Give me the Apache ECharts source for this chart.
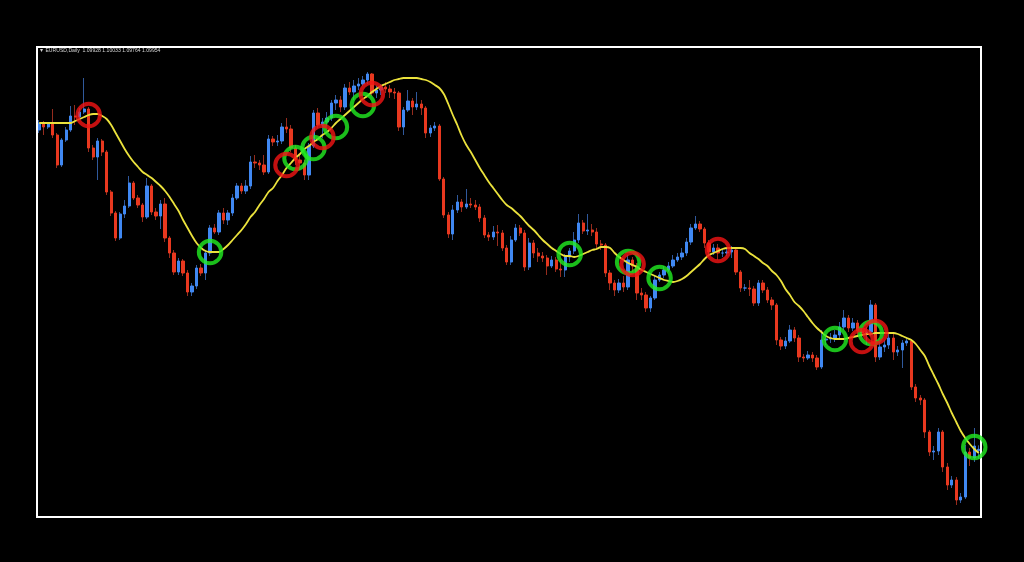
<!DOCTYPE html>
<html>
<head>
<meta charset="utf-8">
<script src="https://cdn.jsdelivr.net/npm/echarts@6/dist/echarts.min.js"></script>
<style>
html,body{margin:0;padding:0;background:#000;}
#chart{width:1024px;height:562px;}
</style>
</head>
<body>
<div id="chart"></div>
<script>
const symbolName = 'EURUSD';
const timeframe = 'Daily';

const open = [
1.1634,1.1648,1.1640,1.1646,1.1624,1.1564,1.1614,1.1634,1.1662,1.1660,
1.1670,1.1676,1.1598,1.1580,1.1612,1.1590,1.1510,1.1468,1.1418,1.1466,
1.1482,1.1528,1.1498,1.1484,1.1460,1.1522,1.1470,1.1462,1.1486,1.1418,
1.1388,1.1350,1.1372,1.1348,1.1310,1.1322,1.1358,1.1348,1.1388,1.1438,
1.1430,1.1468,1.1454,1.1468,1.1498,1.1522,1.1512,1.1522,1.1570,1.1568,
1.1564,1.1550,1.1616,1.1610,1.1612,1.1640,1.1636,1.1598,1.1574,1.1568,
1.1544,1.1602,1.1668,1.1644,1.1650,1.1658,1.1688,1.1694,1.1680,1.1718,
1.1710,1.1722,1.1726,1.1734,1.1746,1.1708,1.1714,1.1720,1.1716,1.1710,
1.1708,1.1640,1.1674,1.1692,1.1680,1.1686,1.1678,1.1628,1.1638,1.1642,
1.1536,1.1464,1.1426,1.1474,1.1490,1.1480,1.1486,1.1484,1.1480,1.1458,
1.1424,1.1420,1.1430,1.1428,1.1398,1.1370,1.1414,1.1438,1.1428,1.1360,
1.1408,1.1388,1.1382,1.1378,1.1362,1.1374,1.1356,1.1354,1.1380,1.1392,
1.1414,1.1448,1.1432,1.1434,1.1430,1.1406,1.1404,1.1348,1.1328,1.1314,
1.1328,1.1320,1.1374,1.1362,1.1308,1.1304,1.1278,1.1298,1.1334,1.1344,
1.1354,1.1362,1.1374,1.1380,1.1388,1.1410,1.1438,1.1446,1.1436,1.1408,
1.1390,1.1398,1.1388,1.1388,1.1390,1.1394,1.1350,1.1318,1.1318,1.1316,
1.1288,1.1328,1.1314,1.1294,1.1284,1.1214,1.1202,1.1212,1.1234,1.1218,
1.1180,1.1178,1.1184,1.1178,1.1160,1.1214,1.1216,1.1218,1.1224,1.1240,
1.1258,1.1238,1.1248,1.1232,1.1228,1.1230,1.1284,1.1180,1.1200,1.1204,
1.1218,1.1190,1.1194,1.1208,1.1212,1.1120,1.1098,1.1094,1.1030,1.0990,
1.0992,1.1030,1.0960,1.0924,1.0934,1.0894,1.0900,1.0990,1.0978,1.09928
];
const close = [
1.1648,1.1640,1.1646,1.1624,1.1564,1.1614,1.1634,1.1662,1.1660,1.1670,
1.1676,1.1598,1.1580,1.1612,1.1590,1.1510,1.1468,1.1418,1.1466,1.1482,
1.1528,1.1498,1.1484,1.1460,1.1522,1.1470,1.1462,1.1486,1.1418,1.1388,
1.1350,1.1372,1.1348,1.1310,1.1322,1.1358,1.1348,1.1388,1.1438,1.1430,
1.1468,1.1454,1.1468,1.1498,1.1522,1.1512,1.1522,1.1570,1.1568,1.1564,
1.1550,1.1616,1.1610,1.1612,1.1640,1.1636,1.1598,1.1574,1.1568,1.1544,
1.1602,1.1668,1.1644,1.1650,1.1658,1.1688,1.1694,1.1680,1.1718,1.1710,
1.1722,1.1726,1.1734,1.1746,1.1708,1.1714,1.1720,1.1716,1.1710,1.1708,
1.1640,1.1674,1.1692,1.1680,1.1686,1.1678,1.1628,1.1638,1.1642,1.1536,
1.1464,1.1426,1.1474,1.1490,1.1480,1.1486,1.1484,1.1480,1.1458,1.1424,
1.1420,1.1430,1.1428,1.1398,1.1370,1.1414,1.1438,1.1428,1.1360,1.1408,
1.1388,1.1382,1.1378,1.1362,1.1374,1.1356,1.1354,1.1380,1.1392,1.1414,
1.1448,1.1432,1.1434,1.1430,1.1406,1.1404,1.1348,1.1328,1.1314,1.1328,
1.1320,1.1374,1.1362,1.1308,1.1304,1.1278,1.1298,1.1334,1.1344,1.1354,
1.1362,1.1374,1.1380,1.1388,1.1410,1.1438,1.1446,1.1436,1.1408,1.1390,
1.1398,1.1388,1.1388,1.1390,1.1394,1.1350,1.1318,1.1318,1.1316,1.1288,
1.1328,1.1314,1.1294,1.1284,1.1214,1.1202,1.1212,1.1234,1.1218,1.1180,
1.1178,1.1184,1.1178,1.1160,1.1214,1.1216,1.1218,1.1224,1.1240,1.1258,
1.1238,1.1248,1.1232,1.1228,1.1230,1.1284,1.1180,1.1200,1.1204,1.1218,
1.1190,1.1194,1.1208,1.1212,1.1120,1.1098,1.1094,1.1030,1.0990,1.0992,
1.1030,1.0960,1.0924,1.0934,1.0894,1.0900,1.0990,1.0978,1.1002,1.09954
];
const high = [
1.1654,1.1652,1.1650,1.1676,1.1628,1.1618,1.1640,1.1682,1.1684,1.1678,
1.1738,1.1680,1.1604,1.1618,1.1616,1.1594,1.1514,1.1472,1.1470,1.1494,
1.1542,1.1532,1.1504,1.1488,1.1538,1.1526,1.1478,1.1494,1.1498,1.1422,
1.1394,1.1378,1.1376,1.1354,1.1328,1.1364,1.1366,1.1394,1.1444,1.1446,
1.1474,1.1478,1.1474,1.1506,1.1528,1.1528,1.1534,1.1582,1.1584,1.1574,
1.1584,1.1624,1.1622,1.1624,1.1648,1.1658,1.1644,1.1604,1.1584,1.1574,
1.1608,1.1674,1.1678,1.1658,1.1670,1.1694,1.1704,1.1702,1.1726,1.1730,
1.1734,1.1738,1.1742,1.1750,1.1748,1.1722,1.1726,1.1730,1.1724,1.1718,
1.1712,1.1680,1.1714,1.1698,1.1710,1.1694,1.1682,1.1644,1.1650,1.1646,
1.1540,1.1470,1.1484,1.1504,1.1496,1.1516,1.1498,1.1494,1.1486,1.1464,
1.1430,1.1442,1.1444,1.1434,1.1404,1.1422,1.1446,1.1444,1.1434,1.1418,
1.1414,1.1398,1.1390,1.1384,1.1382,1.1380,1.1374,1.1386,1.1398,1.1430,
1.1466,1.1454,1.1466,1.1446,1.1438,1.1414,1.1408,1.1354,1.1334,1.1336,
1.1342,1.1384,1.1380,1.1368,1.1318,1.1310,1.1302,1.1342,1.1350,1.1362,
1.1370,1.1384,1.1388,1.1398,1.1418,1.1446,1.1462,1.1452,1.1440,1.1414,
1.1406,1.1406,1.1396,1.1398,1.1402,1.1398,1.1354,1.1326,1.1334,1.1322,
1.1334,1.1334,1.1320,1.1300,1.1288,1.1220,1.1220,1.1244,1.1240,1.1224,
1.1186,1.1192,1.1190,1.1184,1.1234,1.1226,1.1228,1.1234,1.1250,1.1274,
1.1264,1.1258,1.1254,1.1238,1.1240,1.1294,1.1288,1.1210,1.1214,1.1226,
1.1230,1.1202,1.1214,1.1218,1.1216,1.1126,1.1104,1.1098,1.1034,1.1002,
1.1038,1.1034,1.0968,1.0942,1.0940,1.0908,1.1004,1.0998,1.1038,1.10033
];
const low = [
1.1628,1.1624,1.1636,1.1618,1.1558,1.1560,1.1610,1.1630,1.1644,1.1654,
1.1666,1.1590,1.1574,1.1534,1.1582,1.1504,1.1462,1.1412,1.1414,1.1458,
1.1478,1.1494,1.1478,1.1450,1.1456,1.1464,1.1454,1.1436,1.1410,1.1378,
1.1344,1.1344,1.1342,1.1302,1.1302,1.1316,1.1342,1.1334,1.1382,1.1426,
1.1424,1.1446,1.1444,1.1462,1.1494,1.1506,1.1506,1.1516,1.1558,1.1554,
1.1544,1.1546,1.1602,1.1602,1.1606,1.1628,1.1590,1.1564,1.1554,1.1534,
1.1534,1.1598,1.1638,1.1618,1.1642,1.1652,1.1674,1.1670,1.1674,1.1704,
1.1694,1.1714,1.1722,1.1726,1.1702,1.1698,1.1704,1.1708,1.1698,1.1696,
1.1632,1.1624,1.1670,1.1664,1.1674,1.1664,1.1618,1.1620,1.1632,1.1532,
1.1458,1.1418,1.1414,1.1468,1.1470,1.1476,1.1478,1.1474,1.1450,1.1418,
1.1412,1.1414,1.1402,1.1392,1.1364,1.1364,1.1410,1.1422,1.1352,1.1354,
1.1378,1.1370,1.1370,1.1344,1.1358,1.1350,1.1340,1.1340,1.1370,1.1386,
1.1408,1.1426,1.1424,1.1422,1.1394,1.1394,1.1340,1.1314,1.1302,1.1308,
1.1310,1.1314,1.1350,1.1294,1.1294,1.1270,1.1270,1.1294,1.1330,1.1338,
1.1350,1.1358,1.1370,1.1374,1.1382,1.1404,1.1434,1.1430,1.1398,1.1382,
1.1384,1.1374,1.1380,1.1382,1.1378,1.1344,1.1310,1.1312,1.1302,1.1282,
1.1282,1.1308,1.1288,1.1274,1.1204,1.1194,1.1196,1.1208,1.1210,1.1170,
1.1170,1.1174,1.1170,1.1154,1.1156,1.1204,1.1208,1.1210,1.1218,1.1234,
1.1230,1.1232,1.1224,1.1220,1.1204,1.1222,1.1170,1.1174,1.1190,1.1196,
1.1174,1.1182,1.1158,1.1202,1.1114,1.1090,1.1084,1.1018,1.0982,1.0974,
1.0984,1.0950,1.0914,1.0918,1.0884,1.0888,1.0896,1.0962,1.0970,1.09764
];
const smoothLine = [
1.1648,1.1648,1.1648,1.1648,1.1648,1.1648,1.1648,1.1648,1.1652,1.1656,
1.1660,1.1664,1.1666,1.1666,1.1662,1.1656,1.1644,1.1628,1.1612,1.1596,
1.1582,1.1570,1.1560,1.1550,1.1544,1.1538,1.1530,1.1522,1.1512,1.1500,
1.1486,1.1472,1.1454,1.1438,1.1422,1.1408,1.1398,1.1392,1.1390,1.1390,
1.1390,1.1396,1.1404,1.1414,1.1424,1.1434,1.1446,1.1460,1.1470,1.1484,
1.1496,1.1510,1.1518,1.1532,1.1544,1.1558,1.1568,1.1578,1.1586,1.1596,
1.1602,1.1610,1.1616,1.1624,1.1630,1.1638,1.1648,1.1656,1.1664,1.1672,
1.1680,1.1688,1.1696,1.1702,1.1710,1.1716,1.1722,1.1726,1.1730,1.1734,
1.1736,1.1738,1.1738,1.1738,1.1738,1.1736,1.1734,1.1730,1.1724,1.1718,
1.1706,1.1686,1.1664,1.1644,1.1622,1.1604,1.1590,1.1574,1.1558,1.1544,
1.1530,1.1518,1.1506,1.1494,1.1484,1.1478,1.1470,1.1462,1.1452,1.1442,
1.1434,1.1424,1.1414,1.1406,1.1398,1.1392,1.1386,1.1382,1.1382,1.1380,
1.1382,1.1386,1.1390,1.1394,1.1396,1.1400,1.1400,1.1398,1.1388,1.1380,
1.1374,1.1368,1.1364,1.1360,1.1354,1.1350,1.1346,1.1342,1.1338,1.1334,
1.1332,1.1330,1.1332,1.1336,1.1342,1.1350,1.1358,1.1366,1.1376,1.1384,
1.1388,1.1392,1.1396,1.1398,1.1398,1.1398,1.1398,1.1396,1.1388,1.1382,
1.1376,1.1368,1.1362,1.1352,1.1344,1.1332,1.1316,1.1304,1.1290,1.1282,
1.1272,1.1260,1.1248,1.1238,1.1230,1.1222,1.1218,1.1216,1.1216,1.1216,
1.1218,1.1220,1.1222,1.1224,1.1226,1.1226,1.1228,1.1228,1.1228,1.1228,
1.1228,1.1226,1.1222,1.1218,1.1214,1.1206,1.1194,1.1182,1.1162,1.1144,
1.1126,1.1106,1.1088,1.1068,1.1050,1.1032,1.1018,1.1006,1.0996,1.0988
];
// signal circles: candle index and price level
const greenIdx = [38, 57, 61, 66, 72, 118, 131, 138, 177, 185, 208];
const greenVal = [1.1390, 1.1578, 1.1598, 1.1640, 1.1684, 1.1386, 1.1370, 1.1338, 1.1216, 1.1228, 1.1000];
const redIdx = [11, 55, 63, 74, 132, 151, 183, 186];
const redVal = [1.1664, 1.1564, 1.1620, 1.1706, 1.1366, 1.1394, 1.1212, 1.1230];

const days = close.map((_, i) => String(i + 1));

const UP = '#4088f2', DOWN = '#e8381f';
const UP_WICK = '#30599c', DOWN_WICK = '#962c1e';

const wickData = close.map((c, i) => [open[i], c, low[i], high[i]]);
const bodyData = close.map((c, i) => [open[i], c, Math.min(open[i], c), Math.max(open[i], c)]);

const n = close.length - 1;
const header = '\u25BC ' + symbolName + ',' + timeframe + '  ' +
  open[n].toFixed(5) + ' ' + high[n].toFixed(5) + ' ' + low[n].toFixed(5) + ' ' + close[n].toFixed(5);

const chart = echarts.init(document.getElementById('chart'));
chart.setOption({
  backgroundColor: '#000',
  animation: false,
  grid: { left: 37, top: 47, width: 944, height: 470, show: true, borderColor: '#ffffff', borderWidth: 2, backgroundColor: '#000' },
  xAxis: { type: 'category', data: days, boundaryGap: true, axisLine: { show: false }, axisTick: { show: false }, axisLabel: { show: false }, splitLine: { show: false } },
  yAxis: { type: 'value', min: 1.086, max: 1.18, axisLine: { show: false }, axisTick: { show: false }, axisLabel: { show: false }, splitLine: { show: false } },
  graphic: [{
    type: 'text', left: 39, top: 48, silent: true,
    style: { text: header, fill: '#d4d4d4', font: '5.1px "Liberation Sans", Arial, sans-serif' }
  }],
  series: [
    { type: 'candlestick', name: 'wicks', data: wickData, barWidth: 1,
      itemStyle: { color: UP_WICK, color0: DOWN_WICK, borderColor: UP_WICK, borderColor0: DOWN_WICK, borderWidth: 1 } },
    { type: 'candlestick', name: 'bodies', data: bodyData, barWidth: 2.8,
      itemStyle: { color: UP, color0: DOWN, borderColor: UP, borderColor0: DOWN, borderWidth: 1 } },
    { type: 'line', name: 'trend', data: smoothLine, symbol: 'none', smooth: 0.3, z: 5,
      lineStyle: { color: '#ebe23c', width: 1.8 } },
    { type: 'scatter', name: 'buy', data: greenIdx.map((x, i) => [x, greenVal[i]]), symbol: 'circle', symbolSize: 22.5, z: 6,
      itemStyle: { color: 'rgba(0,0,0,0)', borderColor: '#22ee22', borderWidth: 4 } },
    { type: 'scatter', name: 'sell', data: redIdx.map((x, i) => [x, redVal[i]]), symbol: 'circle', symbolSize: 22.5, z: 7,
      itemStyle: { color: 'rgba(0,0,0,0)', borderColor: '#f41414', borderWidth: 4 } }
  ]
});
</script>
</body>
</html>
